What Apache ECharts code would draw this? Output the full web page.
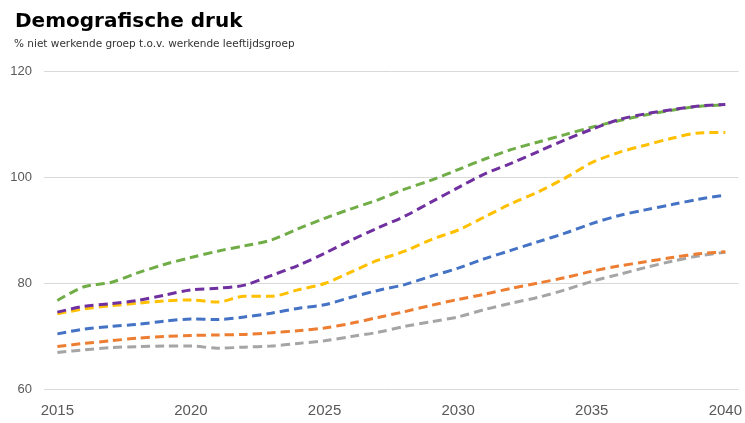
<!DOCTYPE html>
<html>
<head>
<meta charset="utf-8">
<script src="https://cdn.jsdelivr.net/npm/echarts@6/dist/echarts.min.js"></script>
<style>
  html, body { margin: 0; padding: 0; background: #ffffff; }
  #chart { width: 745px; height: 423px; }
</style>
</head>
<body>
<div id="chart"></div>
<script>
const years = ['2015','2016','2017','2018','2019','2020','2021','2022','2023','2024','2025','2026','2027','2028','2029','2030','2031','2032','2033','2034','2035','2036','2037','2038','2039','2040'];

const grayValues   = [66.9, 67.4, 67.8, 68.0, 68.1, 68.1, 67.7, 67.9, 68.1, 68.6, 69.1, 69.9, 70.7, 71.8, 72.7, 73.6, 75.0, 76.2, 77.3, 78.7, 80.3, 81.6, 82.9, 84.1, 85.1, 85.8];
const orangeValues = [68.0, 68.6, 69.1, 69.6, 69.9, 70.1, 70.2, 70.3, 70.6, 71.0, 71.5, 72.4, 73.5, 74.6, 75.8, 76.9, 77.9, 79.0, 80.0, 81.0, 82.2, 83.2, 84.0, 84.8, 85.5, 85.9];
const blueValues   = [70.4, 71.3, 71.8, 72.2, 72.8, 73.2, 73.1, 73.6, 74.3, 75.2, 75.9, 77.3, 78.6, 79.7, 81.3, 82.8, 84.6, 86.2, 87.8, 89.4, 91.2, 92.7, 93.8, 94.8, 95.8, 96.6];
const yellowValues = [74.2, 75.1, 75.7, 76.2, 76.6, 76.8, 76.4, 77.5, 77.5, 78.7, 79.9, 82.1, 84.3, 86.0, 88.2, 90.0, 92.5, 95.0, 97.2, 99.8, 102.7, 104.6, 106.0, 107.3, 108.3, 108.4];
const greenValues  = [76.7, 79.3, 80.1, 81.9, 83.5, 84.8, 86.0, 87.0, 88.1, 90.2, 92.2, 94.0, 95.7, 97.7, 99.4, 101.4, 103.4, 105.2, 106.6, 108.0, 109.4, 110.6, 111.7, 112.6, 113.3, 113.6];
const purpleValues = [74.5, 75.6, 76.1, 76.7, 77.7, 78.7, 79.0, 79.6, 81.4, 83.3, 85.6, 88.1, 90.4, 92.6, 95.3, 98.0, 100.6, 102.6, 104.8, 107.0, 109.0, 110.8, 111.9, 112.7, 113.4, 113.7];

const yTicks = { min: 60, max: 120, step: 20 };

const seriesDefs = [
  { name: 'grijs',  data: grayValues,   color: '#A5A5A5' },
  { name: 'oranje', data: orangeValues, color: '#ED7D31' },
  { name: 'blauw',  data: blueValues,   color: '#4472C4' },
  { name: 'geel',   data: yellowValues, color: '#FFC000' },
  { name: 'groen',  data: greenValues,  color: '#70AD47' },
  { name: 'paars',  data: purpleValues, color: '#7030A0' }
];

const chart = echarts.init(document.getElementById('chart'), null, { renderer: 'canvas' });
chart.setOption({
  animation: false,
  backgroundColor: '#ffffff',
  title: [
    {
      text: 'Demografische druk',
      left: 15, top: 12, padding: 0,
      textStyle: { fontFamily: 'DejaVu Sans', fontWeight: 'bold', fontSize: 20, color: '#000000' }
    },
    {
      text: '% niet werkende groep t.o.v. werkende leeftijdsgroep',
      left: 14, top: 39, padding: 0,
      textStyle: { fontFamily: 'DejaVu Sans', fontWeight: 'normal', fontSize: 10.5, color: '#333333' }
    }
  ],
  grid: { left: 44, right: 5, top: 71, bottom: 34, containLabel: false },
  xAxis: {
    type: 'category',
    data: years,
    boundaryGap: true,
    axisLine: { show: false },
    axisTick: { show: false },
    axisLabel: { interval: 4, margin: 14, fontSize: 15, color: '#595959', fontFamily: 'Liberation Sans' },
    splitLine: { show: false }
  },
  yAxis: {
    type: 'value',
    min: yTicks.min, max: yTicks.max, interval: yTicks.step,
    axisLine: { show: false },
    axisTick: { show: false },
    axisLabel: { margin: 12, fontSize: 13, color: '#595959', fontFamily: 'Liberation Sans' },
    splitLine: { lineStyle: { color: '#d9d9d9', width: 1 } }
  },
  series: seriesDefs.map(s => ({
    name: s.name,
    type: 'line',
    data: s.data,
    smooth: 0.3,
    symbol: 'none',
    lineStyle: { color: s.color, width: 3, type: [9, 5] },
    itemStyle: { color: s.color }
  }))
});
</script>
</body>
</html>
